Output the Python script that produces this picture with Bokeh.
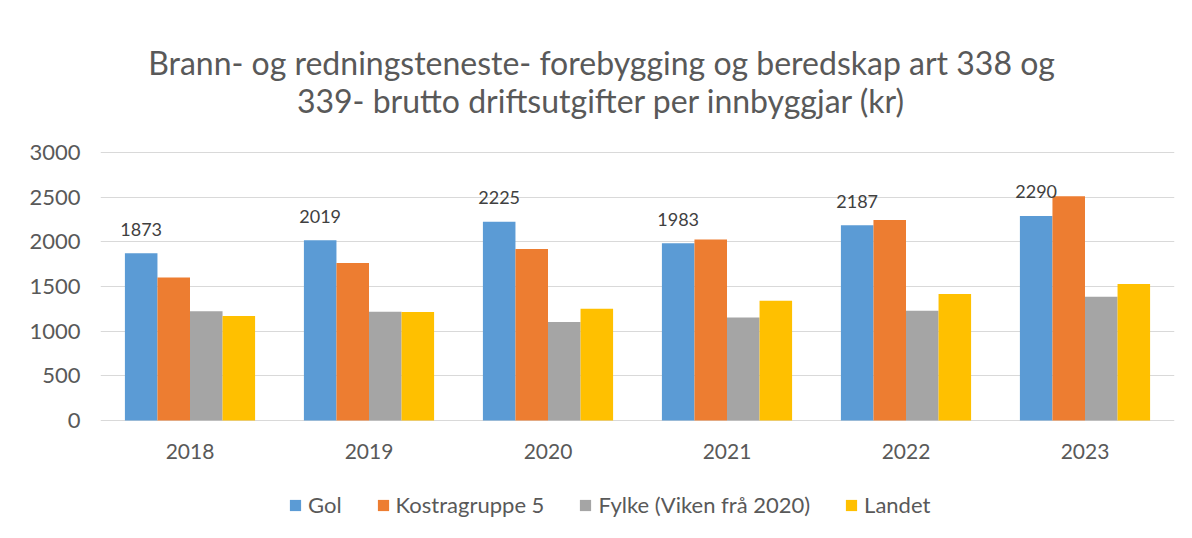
from bokeh.plotting import figure
from bokeh.models import ColumnDataSource, FactorRange, Legend, LegendItem, Label, Range1d
from bokeh.transform import dodge
from bokeh.embed import file_html
from bokeh.resources import INLINE
from bokeh.core.properties import value

years = ["2018", "2019", "2020", "2021", "2022", "2023"]
gol = [1873, 2019, 2225, 1983, 2187, 2290]
kostragruppe = [1600, 1762, 1919, 2027, 2244, 2509]
fylke = [1224, 1216, 1104, 1153, 1228, 1385]
landet = [1171, 1215, 1250, 1340, 1415, 1527]
series_names = ["Gol", "Kostragruppe 5", "Fylke (Viken frå 2020)", "Landet"]
colors = ["#5B9BD5", "#ED7D31", "#A5A5A5", "#FFC000"]
title_lines = ["Brann- og redningsteneste- forebygging og beredskap art 338 og",
               "339- brutto driftsutgifter per innbyggjar (kr)"]
y_ticks = [0, 500, 1000, 1500, 2000, 2500, 3000]

FONT = "Lato"
TXT = "#595959"
W, H = 1184, 530
LEFT, RIGHT = 100, 10
Y0_PX, Y3000_PX = 420, 152          # pixel rows of value 0 and 3000


def px_to_y(py):
    return 3000 * (Y0_PX - py) / (Y0_PX - Y3000_PX)


def px_to_x(px):
    return (px - LEFT) / ((W - LEFT - RIGHT) / len(years))


src = ColumnDataSource(dict(year=years, gol=gol, kostra=kostragruppe, fylke=fylke,
                            landet=landet, gol_label=[str(v) for v in gol]))

p = figure(width=W, height=H, x_range=FactorRange(factors=years, range_padding=0),
           y_range=Range1d(px_to_y(H), px_to_y(0)), output_backend="svg", toolbar_location=None,
           x_axis_location=None,
           min_border_left=LEFT, min_border_right=RIGHT, min_border_top=0, min_border_bottom=0)
p.outline_line_color = None
p.background_fill_color = "white"
p.border_fill_color = "white"

bw = 1 / 5.5
offsets = [-1.5 * bw, -0.5 * bw, 0.5 * bw, 1.5 * bw]
fields = ["gol", "kostra", "fylke", "landet"]
renderers = []
for f, off, c in zip(fields, offsets, colors):
    r = p.vbar(x=dodge("year", off, range=p.x_range), top=f, bottom=0, width=bw, source=src,
               fill_color=c, line_color=None)
    renderers.append(r)

# data labels on the Gol series
p.text(x=dodge("year", offsets[0], range=p.x_range), y="gol", text="gol_label", source=src,
       y_offset=-24, text_align="center", text_baseline="alphabetic", text_color="#404040",
       text_font=value(FONT), text_font_size="18px")

# category labels under the zero line
p.text(x="year", y=0, text="year", source=src, y_offset=31, text_align="center",
       text_baseline="middle", text_color=TXT, text_font=value(FONT), text_font_size="21px")

p.yaxis.ticker = y_ticks
p.yaxis.axis_line_color = None
p.yaxis.major_tick_line_color = None
p.yaxis.minor_tick_line_color = None
p.yaxis.major_tick_in = 0
p.yaxis.major_tick_out = 0
p.yaxis.major_label_standoff = 20
p.yaxis.major_label_text_font = FONT
p.yaxis.major_label_text_font_size = "22px"
p.yaxis.major_label_text_color = TXT

p.xgrid.grid_line_color = None
p.ygrid.grid_line_color = "#D9D9D9"
p.ygrid.grid_line_width = 1

legend = Legend(items=[LegendItem(label=n, renderers=[r]) for n, r in zip(series_names, renderers)],
                orientation="horizontal", location=(288 - LEFT, H - 518), glyph_width=14,
                glyph_height=14, label_standoff=6, spacing=34, padding=0, margin=0,
                border_line_color=None, background_fill_alpha=0, label_text_font=FONT,
                label_text_font_size="22px", label_text_color=TXT)
p.add_layout(legend)

for txt, py in zip(title_lines, [62, 100]):
    p.add_layout(Label(x=px_to_x(601), y=px_to_y(py), text=txt,
                       text_align="center", text_baseline="middle", text_font=FONT,
                       text_font_size="32px", text_color=TXT))

open("out.html", "w").write(file_html(p, INLINE))
